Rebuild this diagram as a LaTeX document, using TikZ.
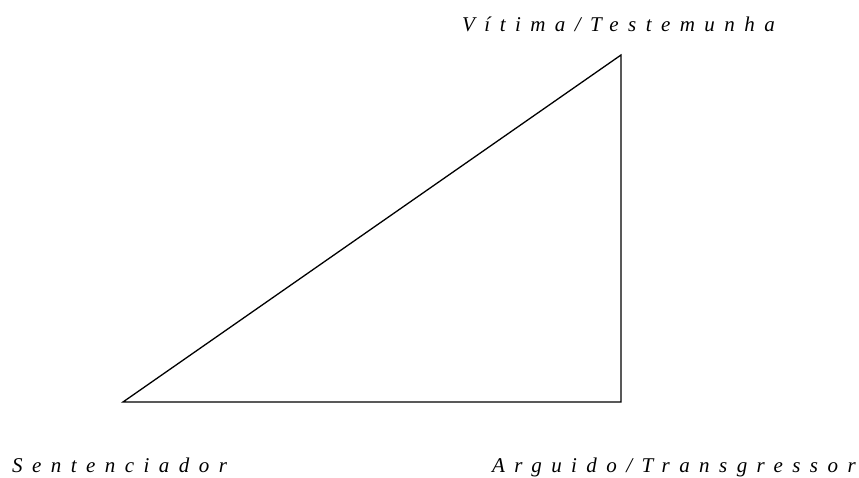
\documentclass[tikz,border=0pt]{standalone}
\usepackage{fontspec}
\setmainfont{Liberation Serif}
\newfontfamily\spaced[LetterSpace=45]{Liberation Serif}
\begin{document}
\begin{tikzpicture}[x=1pt,y=-1pt,
  lbl/.style={anchor=base west,inner sep=0pt,font=\spaced\fontsize{21}{24}\selectfont\itshape},
  edge/.style={line width=1.3pt}]
\useasboundingbox (0,0) rectangle (859,478);
\coordinate (S) at (123,402);
\coordinate (A) at (621,402);
\coordinate (V) at (621,55);
\draw[edge,line join=miter] (S) -- (A) -- (V) -- cycle;
\node[lbl] (tv) at (462,32) {Vítima/Testemunha};
\node[lbl] (ts) at (12,472) {Sentenciador};
\node[lbl] (ta) at (492,472) {Arguido/Transgressor};
\end{tikzpicture}
\end{document}
